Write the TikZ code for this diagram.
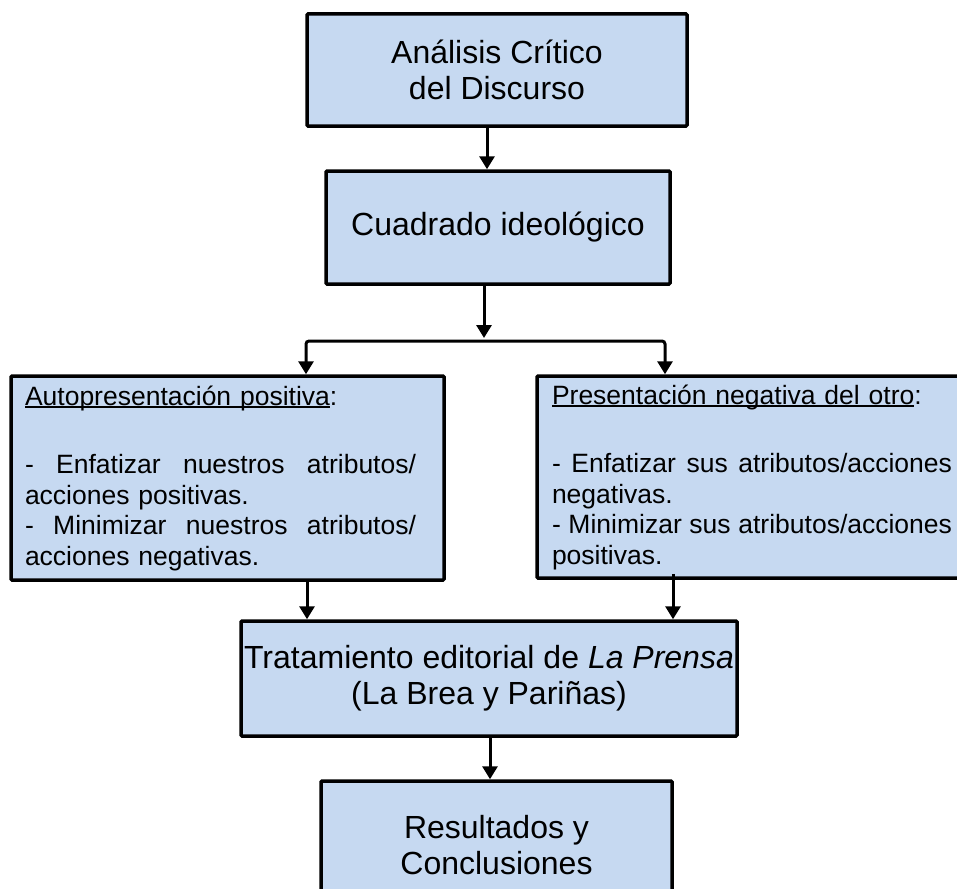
\documentclass[tikz,border=0pt]{standalone}
\usepackage{fontspec}
\setmainfont{Liberation Sans}
\usepackage{xcolor}
\usepackage{tikz}
\usetikzlibrary{arrows.meta,arrows}
\usetikzlibrary{shapes,calc}

\definecolor{cajaazul}{HTML}{C6D9F1}
\newcommand{\subray}[1]{\setbox0\hbox{#1}\rlap{\rule[-3pt]{\wd0}{1.8pt}}\box0}

\begin{document}
\begin{tikzpicture}[
		x = 1pt, y = -1pt, % coordenadas como en la imagen
		> = {Triangle[width=15pt,length=13pt]}, % punta de flecha
		line width = 3pt % grosor de las flechas
	]
	
	\tikzstyle{caja}=[
	draw = black,
	line width = 3.5pt,
	fill = cajaazul,
	rounded corners = 1pt,
	align = center,
	inner sep = 0pt,
	font = \fontsize{32}{36}\selectfont
	]
	\tikzstyle{lista}=[
	caja,
	align = left,
	font = \fontsize{26.5}{30.5}\selectfont
	]
	
	\useasboundingbox (0,0) rectangle (957,888);
	
	\node[caja, minimum width=380pt, minimum height=112pt] (acd) at (497,70) {Análisis Crítico\\del Discurso};
	\node[caja, minimum width=344pt, minimum height=113pt] (cuad) at (498,227.5) {Cuadrado ideológico};
	
	\node[lista, minimum width=433pt, minimum height=204pt, text width=405pt] (auto) at (227.5,478) {\subray{Autopresentación positiva}:\\[38pt]
		\makebox[391pt][l]{-\hfill Enfatizar\hfill nuestros\hfill atributos/}\\
		acciones positivas.\\
		\makebox[391pt][l]{-\hfill Minimizar\hfill nuestros\hfill atributos/}\\
		acciones negativas.};
	\node[lista, minimum width=430pt, minimum height=202pt, text width=400pt] (neg) at (752,477) {\subray{Presentación negativa del otro}:\\[38pt]
		\makebox[400pt][l]{-\hfill Enfatizar\hfill sus\hfill atributos/acciones}\\
		negativas.\\
		\makebox[400pt][l]{-\hfill Minimizar\hfill sus\hfill atributos/acciones}\\
		positivas.};
	
	\node[caja, minimum width=496pt, minimum height=115pt] (trat) at (489,678.5) {Tratamiento editorial de \textit{La Prensa}\\(La Brea y Pariñas)};
	\node[caja, minimum width=351pt, minimum height=128pt] (res) at (496.5,845) {Resultados y\\Conclusiones};
	
	\coordinate (rama) at (484,341);
	
	\path[->] ([xshift=-10pt]acd.south) edge ([xshift=-11pt]cuad.north);
	\path[->] ([xshift=-14pt]cuad.south) edge ([yshift=3pt]rama);
	\draw[<->, rounded corners=3pt] ([xshift=78.5pt]auto.north) |- (rama) -| ([xshift=-87pt]neg.north);
	\path[->] ([xshift=79.5pt]auto.south) edge ([xshift=-182pt]trat.north);
	\path[->] ([xshift=-79pt,yshift=6pt]neg.south) edge ([xshift=184pt]trat.north);
	\path[->] ([xshift=1pt]trat.south) edge ([xshift=-6.5pt]res.north);
\end{tikzpicture}
\end{document}
